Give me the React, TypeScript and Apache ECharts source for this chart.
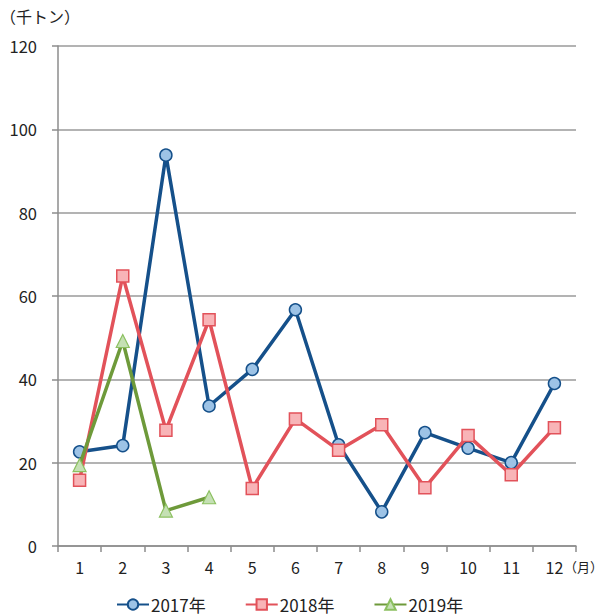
import React, { useEffect, useRef } from "react";
import * as echarts from "echarts";

const months = ["1", "2", "3", "4", "5", "6", "7", "8", "9", "10", "11", "12"];
const yTicks = [0, 20, 40, 60, 80, 100, 120];
const s2017 = [22.6, 24.1, 93.8, 33.6, 42.4, 56.7, 24.3, 8.2, 27.2, 23.5, 20.0, 39.0];
const s2018 = [15.8, 64.8, 27.8, 54.3, 13.8, 30.5, 23.0, 29.1, 14.0, 26.5, 17.1, 28.4];
const s2019 = [19.4, 49.2, 8.5, 11.7];
const seriesNames = ["2017年", "2018年", "2019年"];

const FONT = "'Noto Sans CJK JP', 'Noto Sans', sans-serif";

export default function App() {
  const ref = useRef<HTMLDivElement>(null);
  useEffect(() => {
    if (!ref.current) return;
    const chart = echarts.init(ref.current, undefined, { renderer: "svg" });
    chart.setOption({
      animation: false,
      textStyle: { fontFamily: FONT },
      grid: { left: 58, right: 27, top: 46, bottom: 70 },
      legend: {
        left: 116,
        top: 596,
        padding: 0,
        itemGap: 39,
        itemWidth: 32,
        itemHeight: 13,
        textStyle: { fontSize: 17, color: "#222", fontFamily: FONT, padding: [0, 0, 0, -3] },
        data: seriesNames,
      },
      graphic: [
        {
          type: "text",
          left: 0,
          top: 8,
          style: { text: "（千トン）", fontSize: 16, fill: "#222", fontFamily: FONT },
        },
        {
          type: "text",
          right: 0,
          top: 560,
          style: { text: "（月）", fontSize: 13, fill: "#222", fontFamily: FONT },
        },
      ],
      xAxis: {
        type: "category",
        data: months,
        boundaryGap: true,
        axisLine: { lineStyle: { color: "#8c8c8c", width: 1.5 } },
        axisTick: { show: true, length: 6, inside: false, lineStyle: { color: "#8c8c8c", width: 1.5 } },
        axisLabel: { fontSize: 16, color: "#222", margin: 13, fontFamily: FONT },
      },
      yAxis: {
        type: "value",
        min: 0,
        max: 120,
        interval: 20,
        axisLine: { show: true, lineStyle: { color: "#8c8c8c", width: 1.5 } },
        axisTick: { show: true, length: 6, lineStyle: { color: "#8c8c8c", width: 1.5 } },
        axisLabel: {
          fontSize: 16.5,
          color: "#222",
          margin: 21,
          fontFamily: FONT,
          formatter: (v: number) => (yTicks.includes(v) ? String(v) : ""),
        },
        splitLine: { show: true, lineStyle: { color: "#9a9a9a", width: 1.5 } },
      },
      series: [
        {
          name: seriesNames[0],
          type: "line",
          data: s2017,
          symbol: "circle",
          symbolSize: 12,
          lineStyle: { color: "#15508a", width: 3.5 },
          itemStyle: { color: "#9dc3e6", borderColor: "#15508a", borderWidth: 1.5 },
          z: 3,
        },
        {
          name: seriesNames[1],
          type: "line",
          data: s2018,
          symbol: "rect",
          symbolSize: 12,
          lineStyle: { color: "#e2525a", width: 3.5 },
          itemStyle: { color: "#f8b4b7", borderColor: "#e2525a", borderWidth: 1.5 },
          z: 4,
        },
        {
          name: seriesNames[2],
          type: "line",
          data: s2019,
          symbol: "triangle",
          symbolSize: 13,
          lineStyle: { color: "#6e9a3a", width: 3.5 },
          itemStyle: { color: "#c5e0b4", borderColor: "#8cc060", borderWidth: 1.2 },
          z: 5,
        },
      ],
    });
    return () => chart.dispose();
  }, []);
  return <div ref={ref} style={{ width: 603, height: 616, position: "absolute", left: 0, top: 0 }} />;
}
